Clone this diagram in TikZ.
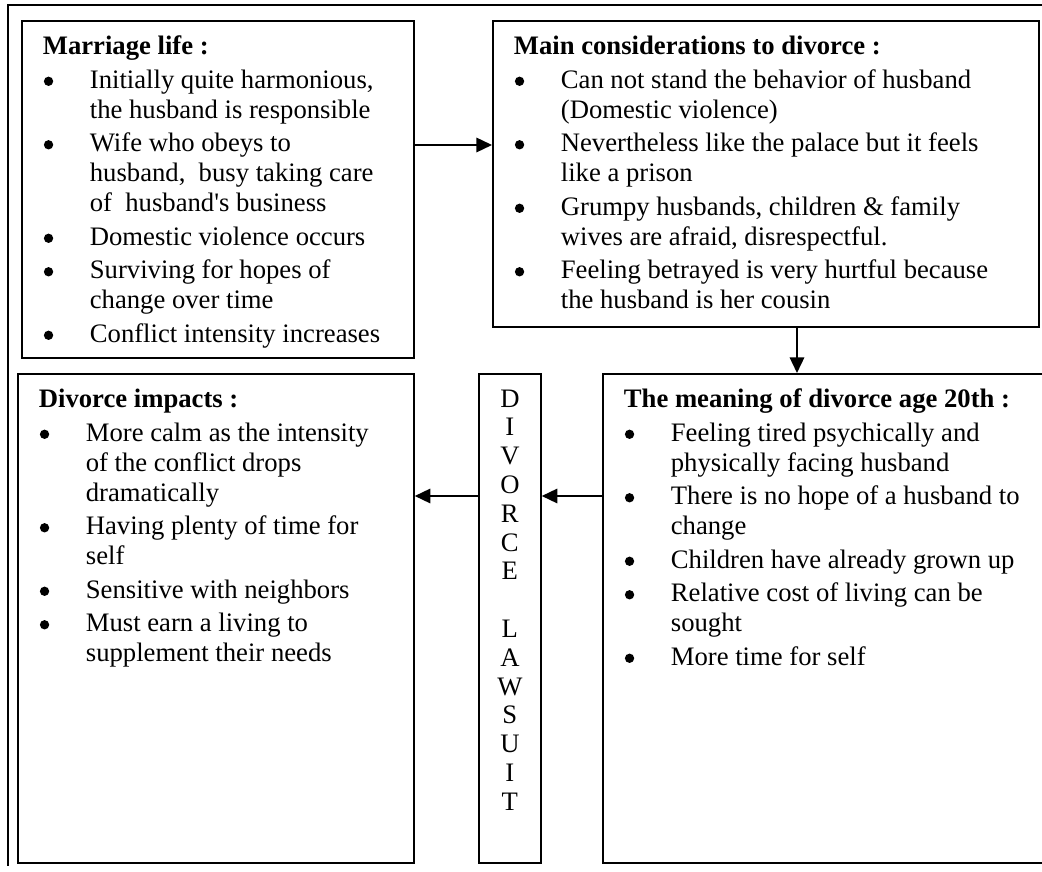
\documentclass[tikz,border=0pt]{standalone}
\usepackage{fontspec}
\setmainfont{Liberation Serif}
\usetikzlibrary{arrows.meta}

\newlength\px
\setlength\px{0.45pt}
\newcommand\itm[1]{\par\vspace{3.5\px}\noindent\hangindent=47\px\hangafter=1\makebox[47\px][l]{\hspace{1\px}\tikz[baseline=0pt]\fill (2.1pt,3.2pt) circle[radius=2.1pt];}#1}
\newcommand\paneltext[4]{\begin{minipage}[t][#2\px][t]{#1\px}\raggedright\fontsize{12pt}{13.5pt}\selectfont\strut\textbf{#3}#4\end{minipage}}

\begin{document}
\begin{tikzpicture}[x=0.45pt,y=-0.45pt,
  panel/.style={draw,line width=0.8pt,anchor=north west,inner xsep=9.45pt,inner ysep=5.85pt},
  letters/.style={draw,line width=0.8pt,anchor=north west,inner xsep=0pt,inner ysep=5.85pt},
  arr/.style={line width=0.8pt,-{Triangle[length=7pt,width=6.5pt]}}]
\clip (0,0) rectangle (1042,872);
\draw[line width=0.8pt] (1042,5) -- (8,5) -- (8,866);

\node[panel] (marriage) at (21,20) {\paneltext{350}{311}{Marriage life :}{%
 \itm{Initially quite harmonious,\newline the husband is responsible}
 \itm{Wife who obeys to\newline husband,~ busy taking care\newline of~ husband\textquotesingle s business}
 \itm{Domestic violence occurs}
 \itm{Surviving for hopes of\newline change over time}
 \itm{Conflict intensity increases}}};
\node[panel] (considerations) at (492,20) {\paneltext{504}{280}{Main considerations to divorce :}{%
 \itm{Can not stand the behavior of husband\newline (Domestic violence)}
 \itm{Nevertheless like the palace but it feels\newline like a prison}
 \itm{Grumpy husbands, children \& family\newline wives are afraid, disrespectful.}
 \itm{Feeling betrayed is very hurtful because\newline the husband is her cousin}}};
\node[panel] (impacts) at (17,373) {\paneltext{354}{463}{Divorce impacts :}{%
 \itm{More calm as the intensity\newline of the conflict drops\newline dramatically}
 \itm{Having plenty of time for\newline self}
 \itm{Sensitive with neighbors}
 \itm{Must earn a living to\newline supplement their needs}}};
\node[panel] (meaning) at (602,373) {\paneltext{418}{463}{The meaning of divorce age 20th :}{%
 \itm{Feeling tired psychically and\newline physically facing husband}
 \itm{There is no hope of a husband to\newline change}
 \itm{Children have already grown up}
 \itm{Relative cost of living can be\newline sought}
 \itm{More time for self}}};
\node[letters] (lawsuit) at (478,373) {\begin{minipage}[t][463\px][t]{62\px}\centering
 \fontsize{12pt}{12.96pt}\selectfont\strut D\\I\\V\\O\\R\\C\\E\\\mbox{}\\L\\A\\W\\S\\U\\I\\T\end{minipage}};

\coordinate (r1) at (0,145);
\coordinate (c1) at (797,0);
\coordinate (r2) at (0,496);
\draw[arr] (marriage.east |- r1) -- (considerations.west |- r1);
\draw[arr] (considerations.south -| c1) -- (meaning.north -| c1);
\draw[arr] (meaning.west |- r2) -- (lawsuit.east |- r2);
\draw[arr] (lawsuit.west |- r2) -- (impacts.east |- r2);
\end{tikzpicture}
\end{document}
